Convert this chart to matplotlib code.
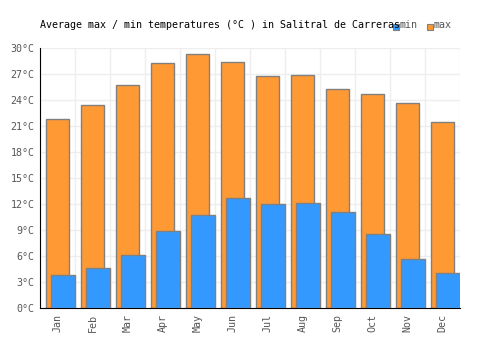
import matplotlib
matplotlib.use('Agg')
import matplotlib.pyplot as plt
from matplotlib.patches import Rectangle

months = ['Jan', 'Feb', 'Mar', 'Apr', 'May', 'Jun', 'Jul', 'Aug', 'Sep', 'Oct', 'Nov', 'Dec']
t_max = [21.8, 23.4, 25.7, 28.3, 29.3, 28.4, 26.8, 26.9, 25.3, 24.7, 23.7, 21.5]
t_min = [3.8, 4.6, 6.1, 8.9, 10.7, 12.7, 12.0, 12.1, 11.1, 8.5, 5.7, 4.0]
yticks = list(range(0, 31, 3))

orange = '#ff9933'
blue = '#3399ff'
edge = '#808080'
txt = '#555555'

plt.rcParams['font.family'] = ['DejaVu Sans Mono']

fig = plt.figure(figsize=(5, 3.5), dpi=100)
ax = fig.add_axes([0.08, 0.12, 0.84, 0.743])

x = list(range(len(months)))
ax.bar([i + 0.171 for i in x], t_max, width=0.658, align='edge',
       color=orange, edgecolor=edge, linewidth=1, zorder=2)
ax.bar([i + 0.314 for i in x], t_min, width=0.686, align='edge',
       color=blue, edgecolor=edge, linewidth=1, zorder=3)

ax.set_xlim(0, 12)
ax.set_ylim(0, 30)
ax.set_xticks([i + 0.5 for i in x])
ax.set_xticklabels(months, rotation=90, fontsize=7.2, color=txt)
ax.set_yticks(yticks)
ax.set_yticklabels([f'{v}°C' for v in yticks], fontsize=7.2, color=txt)
ax.set_xticks(range(13), minor=True)
ax.grid(True, which='minor', axis='x', color='#eeeeee', linewidth=1, zorder=0)
ax.grid(True, which='major', axis='y', color='#eeeeee', linewidth=1, zorder=0)
ax.tick_params(axis='both', which='both', length=0, pad=4)

for s in ['top', 'right']:
    ax.spines[s].set_visible(False)
ax.spines['left'].set_color('black')
ax.spines['bottom'].set_color('black')

fig.text(0.08, 1 - 25 / 350, 'Average max / min temperatures (°C ) in Salitral de Carreras',
         fontsize=7.2, color='black', ha='left', va='center')

# legend
for px, col, label in [(393, blue, 'min'), (427, orange, 'max')]:
    fig.add_artist(Rectangle((px / 500, 1 - 30 / 350), 6 / 500, 6 / 350,
                             transform=fig.transFigure, facecolor=col, edgecolor=edge, linewidth=0.8))
    fig.text((px + 7) / 500, 1 - 25 / 350, label, fontsize=7.2, color=txt, ha='left', va='center')

fig.savefig('out.png', dpi=100)
